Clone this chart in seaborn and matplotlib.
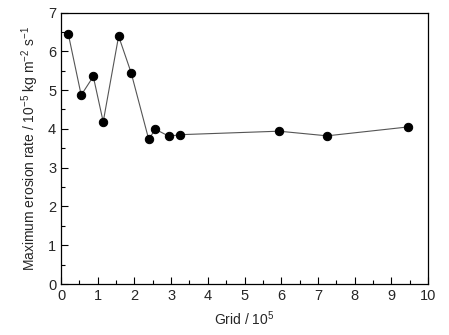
import matplotlib
matplotlib.use("Agg")
import matplotlib.pyplot as plt
import seaborn as sns
import pandas as pd
from matplotlib.ticker import MultipleLocator

grid = [0.2, 0.55, 0.88, 1.15, 1.57, 1.91, 2.39, 2.57, 2.94, 3.25, 5.94, 7.25, 9.46]
rate = [6.44, 4.87, 5.35, 4.18, 6.39, 5.45, 3.73, 3.99, 3.81, 3.85, 3.94, 3.82, 4.05]

sns.set_style("ticks")
plt.rcParams['font.family'] = ['Liberation Sans', 'DejaVu Sans']
plt.rcParams['mathtext.fontset'] = 'custom'
plt.rcParams['mathtext.rm'] = 'Liberation Sans'
plt.rcParams['mathtext.it'] = 'Liberation Sans'
plt.rcParams['mathtext.default'] = 'rm'

df = pd.DataFrame({"grid": grid, "rate": rate})
fig = plt.figure(figsize=(4.49, 3.35), dpi=100)
ax = fig.add_axes([61/449, 1-284/335, (428-61)/449, (284-12.5)/335])
sns.lineplot(data=df, x="grid", y="rate", ax=ax, color="#555555", linewidth=0.8,
             marker="o", markersize=6, markerfacecolor="black", markeredgecolor="black")
ax.set_xlim(0, 10)
ax.set_ylim(0, 7)
ax.xaxis.set_major_locator(MultipleLocator(1))
ax.xaxis.set_minor_locator(MultipleLocator(0.5))
ax.yaxis.set_major_locator(MultipleLocator(1))
ax.yaxis.set_minor_locator(MultipleLocator(0.5))
ax.tick_params(which='both', direction='in', top=False, right=False, labelsize=10.5, color='black')
ax.tick_params(which='major', length=5, width=0.8)
ax.tick_params(which='minor', length=3, width=0.8)
for s in ax.spines.values():
    s.set_linewidth(0.9)
    s.set_color('black')
ax.set_xlabel("Grid / 10$^5$", fontsize=10, labelpad=5)
ax.set_ylabel("Maximum erosion rate / 10$^{-5}$ kg m$^{-2}$ s$^{-1}$", fontsize=10, labelpad=5)
fig.savefig("out.png", dpi=100)
